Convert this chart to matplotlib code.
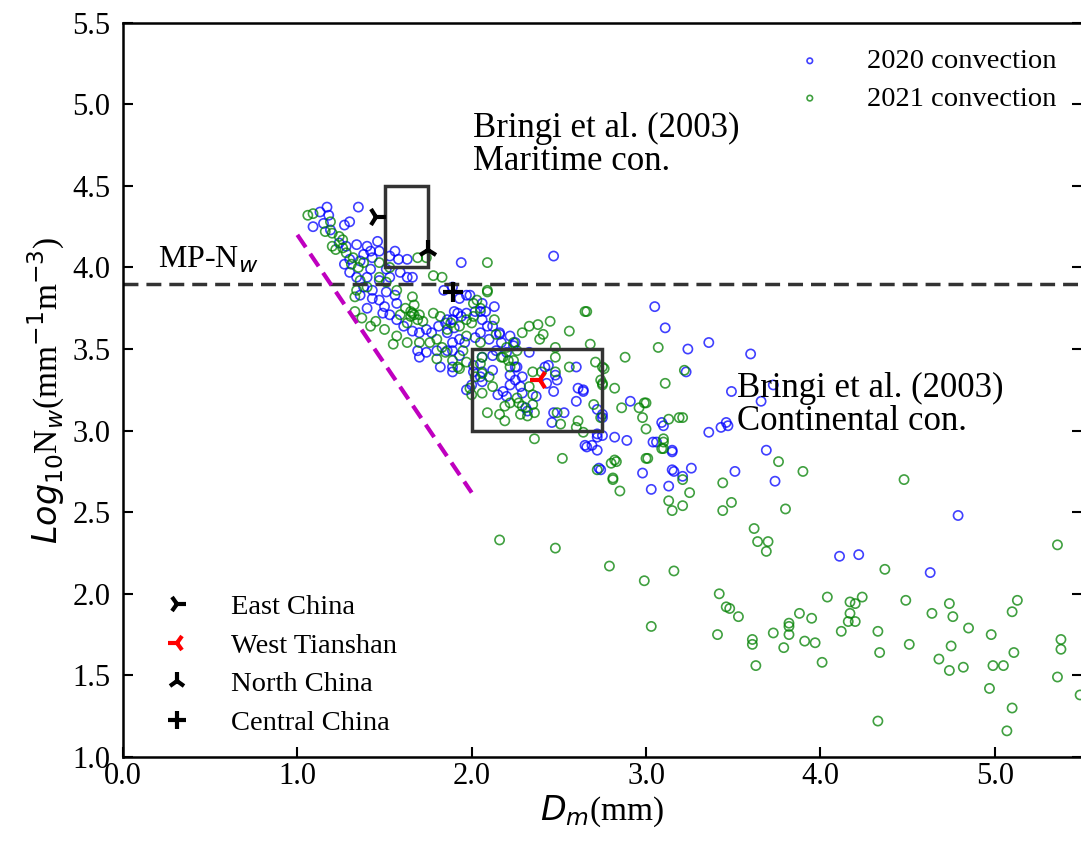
import matplotlib
matplotlib.use('Agg')
import matplotlib.pyplot as plt
from matplotlib.lines import Line2D
from matplotlib.patches import Rectangle
import numpy as np

plt.rcParams['font.family'] = ['Liberation Serif', 'DejaVu Serif']
plt.rcParams['mathtext.fontset'] = 'dejavusans'

# (Dm, log10 Nw)
conv_2020 = np.array([
    (1.17, 4.37), (1.13, 4.34), (1.18, 4.32), (1.09, 4.25), (1.15, 4.27), (1.35, 4.37),
    (1.30, 4.28), (1.27, 4.26), (1.19, 4.23), (1.24, 4.15), (1.28, 4.13), (1.34, 4.14),
    (1.40, 4.13), (1.46, 4.16), (1.42, 4.10), (1.38, 4.08), (1.36, 4.04), (1.30, 4.05),
    (1.27, 4.02), (1.30, 3.97), (1.34, 3.94), (1.43, 4.06), (1.47, 4.10), (1.53, 4.07),
    (1.58, 4.05), (1.63, 4.05), (1.56, 4.10), (1.51, 3.99), (1.42, 3.99), (1.40, 3.94),
    (1.47, 3.92), (1.53, 3.94), (1.59, 3.97), (1.63, 3.94), (1.66, 3.94), (1.38, 3.88),
    (1.43, 3.86), (1.51, 3.85), (1.56, 3.83), (1.36, 3.83), (1.43, 3.81), (1.47, 3.80),
    (1.50, 3.76), (1.57, 3.78), (1.40, 3.75), (1.49, 3.72), (1.53, 3.71), (1.57, 3.68),
    (1.61, 3.64), (1.66, 3.61), (1.70, 3.60), (1.74, 3.62), (1.77, 3.60), (1.81, 3.64),
    (1.86, 3.68), (1.90, 3.73), (1.94, 3.70), (1.97, 3.72), (1.94, 4.03), (1.89, 3.88),
    (1.84, 3.86), (1.97, 3.83), (2.05, 3.73), (2.06, 3.68), (2.09, 3.64), (2.13, 3.76),
    (2.02, 3.57), (1.96, 3.54), (1.89, 3.54), (1.86, 3.49), (1.80, 3.49), (1.74, 3.48),
    (1.70, 3.45), (1.69, 3.49), (1.82, 3.39), (1.89, 3.36), (2.05, 3.60), (2.12, 3.64),
    (2.16, 3.60), (2.22, 3.58), (2.24, 3.52), (2.20, 3.48), (2.14, 3.49), (2.22, 3.34),
    (2.25, 3.39), (2.12, 3.37), (2.06, 3.36), (2.01, 3.36),
    (2.47, 4.07), (3.05, 3.76), (3.11, 3.63), (1.99, 3.83), (1.93, 3.81), (2.06, 3.78),
    (2.02, 3.73), (2.08, 3.73), (1.92, 3.72), (1.89, 3.68), (1.85, 3.66), (1.90, 3.63),
    (1.86, 3.60), (1.93, 3.56), (1.89, 3.49), (1.93, 3.46), (1.89, 3.39), (2.01, 3.40),
    (2.06, 3.45), (2.12, 3.46), (2.16, 3.59), (2.25, 3.54), (2.17, 3.54), (2.10, 3.56),
    (2.33, 3.48), (2.26, 3.39), (2.29, 3.33), (2.42, 3.39), (2.44, 3.40), (2.48, 3.34),
    (2.60, 3.39), (2.49, 3.31), (2.43, 3.29), (2.25, 3.31), (2.22, 3.28), (2.18, 3.24),
    (2.15, 3.22), (2.20, 3.21), (2.28, 3.27), (2.29, 3.23), (2.47, 3.24), (2.61, 3.26),
    (2.64, 3.24), (2.60, 3.18), (2.31, 3.14), (2.32, 3.12), (2.37, 3.21), (2.47, 3.11),
    (2.53, 3.11), (2.46, 3.05), (2.72, 3.13), (2.75, 3.10), (2.72, 2.96), (2.75, 2.97),
    (2.82, 2.96), (2.89, 2.94), (2.91, 3.18), (2.66, 2.90), (2.69, 2.91), (2.72, 2.88),
    (2.74, 2.76), (2.98, 2.74), (3.04, 2.93), (3.15, 2.88), (3.09, 3.05), (3.15, 2.76),
    (2.00, 3.28), (2.06, 3.30), (2.05, 3.33), (1.97, 3.25),
    (3.36, 3.54), (3.24, 3.50), (3.60, 3.47), (3.23, 3.36), (3.49, 3.24), (3.66, 3.18),
    (3.73, 3.28), (3.10, 3.03), (3.36, 2.99), (3.43, 3.02), (3.47, 3.03), (3.46, 3.05),
    (2.72, 2.98), (2.65, 2.91), (3.06, 2.93), (3.15, 2.87), (2.73, 2.77), (3.16, 2.75),
    (3.26, 2.77), (3.21, 2.72), (3.51, 2.75), (3.69, 2.88), (3.74, 2.69), (3.03, 2.64),
    (3.13, 2.66), (2.64, 3.25), (2.75, 3.08),
    (4.11, 2.23), (4.22, 2.24), (4.63, 2.13), (4.79, 2.48),
])

conv_2021 = np.array([
    (1.06, 4.32), (1.09, 4.33), (1.19, 4.28), (1.16, 4.22), (1.20, 4.21), (1.24, 4.19),
    (1.26, 4.17), (1.20, 4.13), (1.22, 4.11), (1.26, 4.12), (1.28, 4.09), (1.32, 4.06),
    (1.35, 4.00), (1.31, 4.02), (1.38, 4.03), (1.47, 4.03), (1.53, 4.00), (1.69, 4.06),
    (1.74, 4.06), (2.09, 4.03), (1.78, 3.95), (1.83, 3.94), (1.47, 3.94), (1.51, 3.91),
    (1.57, 3.86), (1.66, 3.82), (1.66, 3.72), (1.67, 3.71), (1.65, 3.73), (1.69, 3.68),
    (1.63, 3.66), (1.72, 3.67), (1.78, 3.72), (1.82, 3.70), (1.57, 3.58), (1.63, 3.54),
    (1.70, 3.54), (1.76, 3.54), (1.80, 3.56), (1.88, 3.66), (1.93, 3.64), (1.97, 3.68),
    (2.01, 3.70), (2.05, 3.75), (2.09, 3.85), (2.01, 3.78), (1.85, 3.48), (1.89, 3.43),
    (1.80, 3.44), (1.93, 3.38), (1.97, 3.42), (2.05, 3.41), (2.06, 3.45), (2.05, 3.54),
    (2.14, 3.59), (2.18, 3.45), (2.24, 3.43), (2.22, 3.39), (2.26, 3.49), (1.42, 3.64),
    (1.36, 3.92), (1.34, 3.86), (1.33, 3.82), (1.40, 3.88), (1.62, 3.75), (1.67, 3.77),
    (1.70, 3.71), (1.65, 3.70), (1.59, 3.71), (1.33, 3.73), (1.37, 3.69), (1.45, 3.67),
    (1.50, 3.62), (1.55, 3.53),
    (2.09, 3.86), (2.03, 3.80), (2.13, 3.68), (2.00, 3.66), (1.86, 3.62), (1.97, 3.58),
    (1.83, 3.51), (1.95, 3.49), (1.92, 3.39), (2.06, 3.35), (2.02, 3.33), (1.99, 3.26),
    (2.00, 3.22), (2.06, 3.23), (2.12, 3.27), (2.10, 3.33), (2.17, 3.45), (2.21, 3.43),
    (2.20, 3.51), (2.24, 3.54), (2.29, 3.60), (2.33, 3.64), (2.38, 3.65), (2.45, 3.67),
    (2.39, 3.56), (2.41, 3.59), (2.48, 3.51), (2.48, 3.45), (2.56, 3.61), (2.65, 3.73),
    (2.68, 3.53), (2.71, 3.42), (2.75, 3.39), (2.74, 3.31), (2.75, 3.28), (2.88, 3.45),
    (2.56, 3.39), (2.48, 3.36), (2.40, 3.36), (2.35, 3.36), (2.33, 3.27), (2.35, 3.22),
    (2.26, 3.20), (2.22, 3.17), (2.19, 3.15), (2.27, 3.17), (2.29, 3.15), (2.35, 3.16),
    (2.36, 3.11), (2.32, 3.09), (2.28, 3.10), (2.16, 3.10), (2.09, 3.11), (2.19, 3.06),
    (2.49, 3.11), (2.51, 3.04), (2.61, 3.06), (2.60, 3.02), (2.64, 2.99), (2.70, 3.16),
    (2.86, 3.14), (2.96, 3.14), (2.99, 3.17), (2.98, 3.08), (3.07, 3.51), (3.11, 3.29),
    (2.36, 2.95), (2.52, 2.83), (2.72, 2.76), (2.81, 2.71), (2.82, 2.82), (3.00, 2.83),
    (3.10, 2.93), (3.09, 2.89), (3.19, 3.08),
    (2.66, 3.73), (2.76, 3.38), (3.22, 3.37), (2.82, 3.26), (2.75, 3.29), (3.00, 3.17),
    (3.13, 3.07), (3.21, 3.08), (3.00, 3.01), (3.10, 2.95), (3.10, 2.89), (3.01, 2.83),
    (2.83, 2.81), (2.80, 2.80), (2.81, 2.70), (2.85, 2.63), (3.21, 2.70), (3.25, 2.62),
    (3.13, 2.57), (3.15, 2.51), (3.21, 2.54), (3.44, 2.68), (3.49, 2.56), (3.44, 2.51),
    (3.80, 2.52), (3.76, 2.81), (3.90, 2.75), (2.74, 3.08),
    (3.62, 2.40), (3.64, 2.32), (3.70, 2.32), (3.69, 2.26), (2.79, 2.17), (2.99, 2.08),
    (3.16, 2.14), (3.03, 1.80), (3.42, 2.00), (3.46, 1.92), (3.48, 1.91), (3.53, 1.86),
    (3.41, 1.75), (3.61, 1.72), (3.61, 1.69), (3.63, 1.56), (3.73, 1.76), (3.82, 1.82),
    (3.82, 1.80), (3.82, 1.75), (3.79, 1.67), (3.88, 1.88), (3.95, 1.85), (3.91, 1.71),
    (3.97, 1.70), (2.16, 2.33), (2.48, 2.28),
    (4.48, 2.70), (5.36, 2.30), (4.37, 2.15), (4.04, 1.98), (4.17, 1.95), (4.20, 1.94),
    (4.24, 1.98), (4.49, 1.96), (4.74, 1.94), (5.10, 1.89), (5.13, 1.96), (4.17, 1.88),
    (4.16, 1.83), (4.20, 1.83), (4.64, 1.88), (4.76, 1.86), (4.85, 1.79), (4.33, 1.77),
    (4.98, 1.75), (4.12, 1.77), (4.51, 1.69), (4.75, 1.68), (5.11, 1.64), (5.38, 1.72),
    (5.38, 1.66), (4.34, 1.64), (4.01, 1.58), (4.68, 1.60), (4.74, 1.53), (4.82, 1.55),
    (4.99, 1.56), (5.05, 1.56), (5.36, 1.49), (4.97, 1.42), (5.10, 1.30), (4.33, 1.22),
    (5.07, 1.16), (5.49, 1.38),
])

# published regional mean values
regions = ['East China', 'West Tianshan', 'North China', 'Central China']
region_dm = [1.45, 2.39, 1.75, 1.89]
region_nw = [4.31, 3.31, 4.11, 3.85]
region_marker = ['4', '3', '2', '+']
region_color = ['black', 'red', 'black', 'black']

# Bringi et al. (2003) boxes: (Dm min, Dm max, Nw min, Nw max)
maritime_box = (1.5, 1.75, 4.0, 4.5)
continental_box = (2.0, 2.75, 3.0, 3.5)
mp_nw = 3.9
stratiform_dm = [1.0, 2.0]
stratiform_nw = [4.2, 2.62]

fig = plt.figure(figsize=(10.81, 8.42), dpi=100)
ax = fig.add_axes([0.1138, 0.101, 0.887, 0.872])

s1 = ax.scatter(conv_2020[:, 0], conv_2020[:, 1], s=44, facecolors='none',
                edgecolors='b', linewidths=1.2, alpha=0.75, label='2020 convection')
s2 = ax.scatter(conv_2021[:, 0], conv_2021[:, 1], s=44, facecolors='none',
                edgecolors='g', linewidths=1.2, alpha=0.75, label='2021 convection')

ax.axhline(mp_nw, color='#333333', lw=2.5, dashes=(4.3, 2.3))
ax.plot(stratiform_dm, stratiform_nw, color='m', lw=3, dashes=(3.6, 1.9))

for x0, x1, y0, y1 in [maritime_box, continental_box]:
    ax.add_patch(Rectangle((x0, y0), x1 - x0, y1 - y0, fill=False,
                           edgecolor='#333333', lw=2.5))

handles = []
for name, x, y, mk, c in zip(regions, region_dm, region_nw, region_marker, region_color):
    ax.plot(x, y, linestyle='none', marker=mk, color=c, ms=14, mew=3)
    handles.append(Line2D([], [], linestyle='none', marker=mk, color=c, ms=13, mew=3, label=name))

ax.text(0.2, 4.05, 'MP-N$_w$', fontsize=23, va='center', ha='left')
ax.text(2.01, 4.75, 'Bringi et al. (2003)\nMaritime con.', fontsize=25,
        va='center', ha='left', linespacing=1.0)
ax.text(3.52, 3.16, 'Bringi et al. (2003)\nContinental con.', fontsize=25,
        va='center', ha='left', linespacing=1.0)

leg1 = ax.legend(handles=[s1, s2], loc='upper right', bbox_to_anchor=(1.0, 1.0),
                 frameon=False, fontsize=20.5, markerscale=0.6, handletextpad=1.0,
                 labelspacing=0.4)
ax.add_artist(leg1)
ax.legend(handles=handles, loc='lower left', bbox_to_anchor=(0.0, -0.006),
          frameon=False, fontsize=20.5, handletextpad=0.9, labelspacing=0.44)

ax.set_xlim(0, 5.5)
ax.set_ylim(1.0, 5.5)
ax.set_xticks(np.arange(0, 5.01, 1.0))
ax.set_yticks(np.arange(1.0, 5.51, 0.5))
ax.set_xticklabels(['%.1f' % v for v in np.arange(0, 5.01, 1.0)])
ax.set_yticklabels(['%.1f' % v for v in np.arange(1.0, 5.51, 0.5)])
ax.tick_params(direction='in', length=7, width=1.5, labelsize=22, right=True, top=False)
ax.tick_params(axis='y', pad=9)
for sp in ax.spines.values():
    sp.set_linewidth(1.8)

ax.set_xlabel('$D_m$(mm)', fontsize=24, labelpad=2)
ax.set_ylabel('$Log_{10}$N$_w$(mm$^{-1}$m$^{-3}$)', fontsize=24, labelpad=4)

fig.savefig('out.png', dpi=100)
plt.close(fig)
